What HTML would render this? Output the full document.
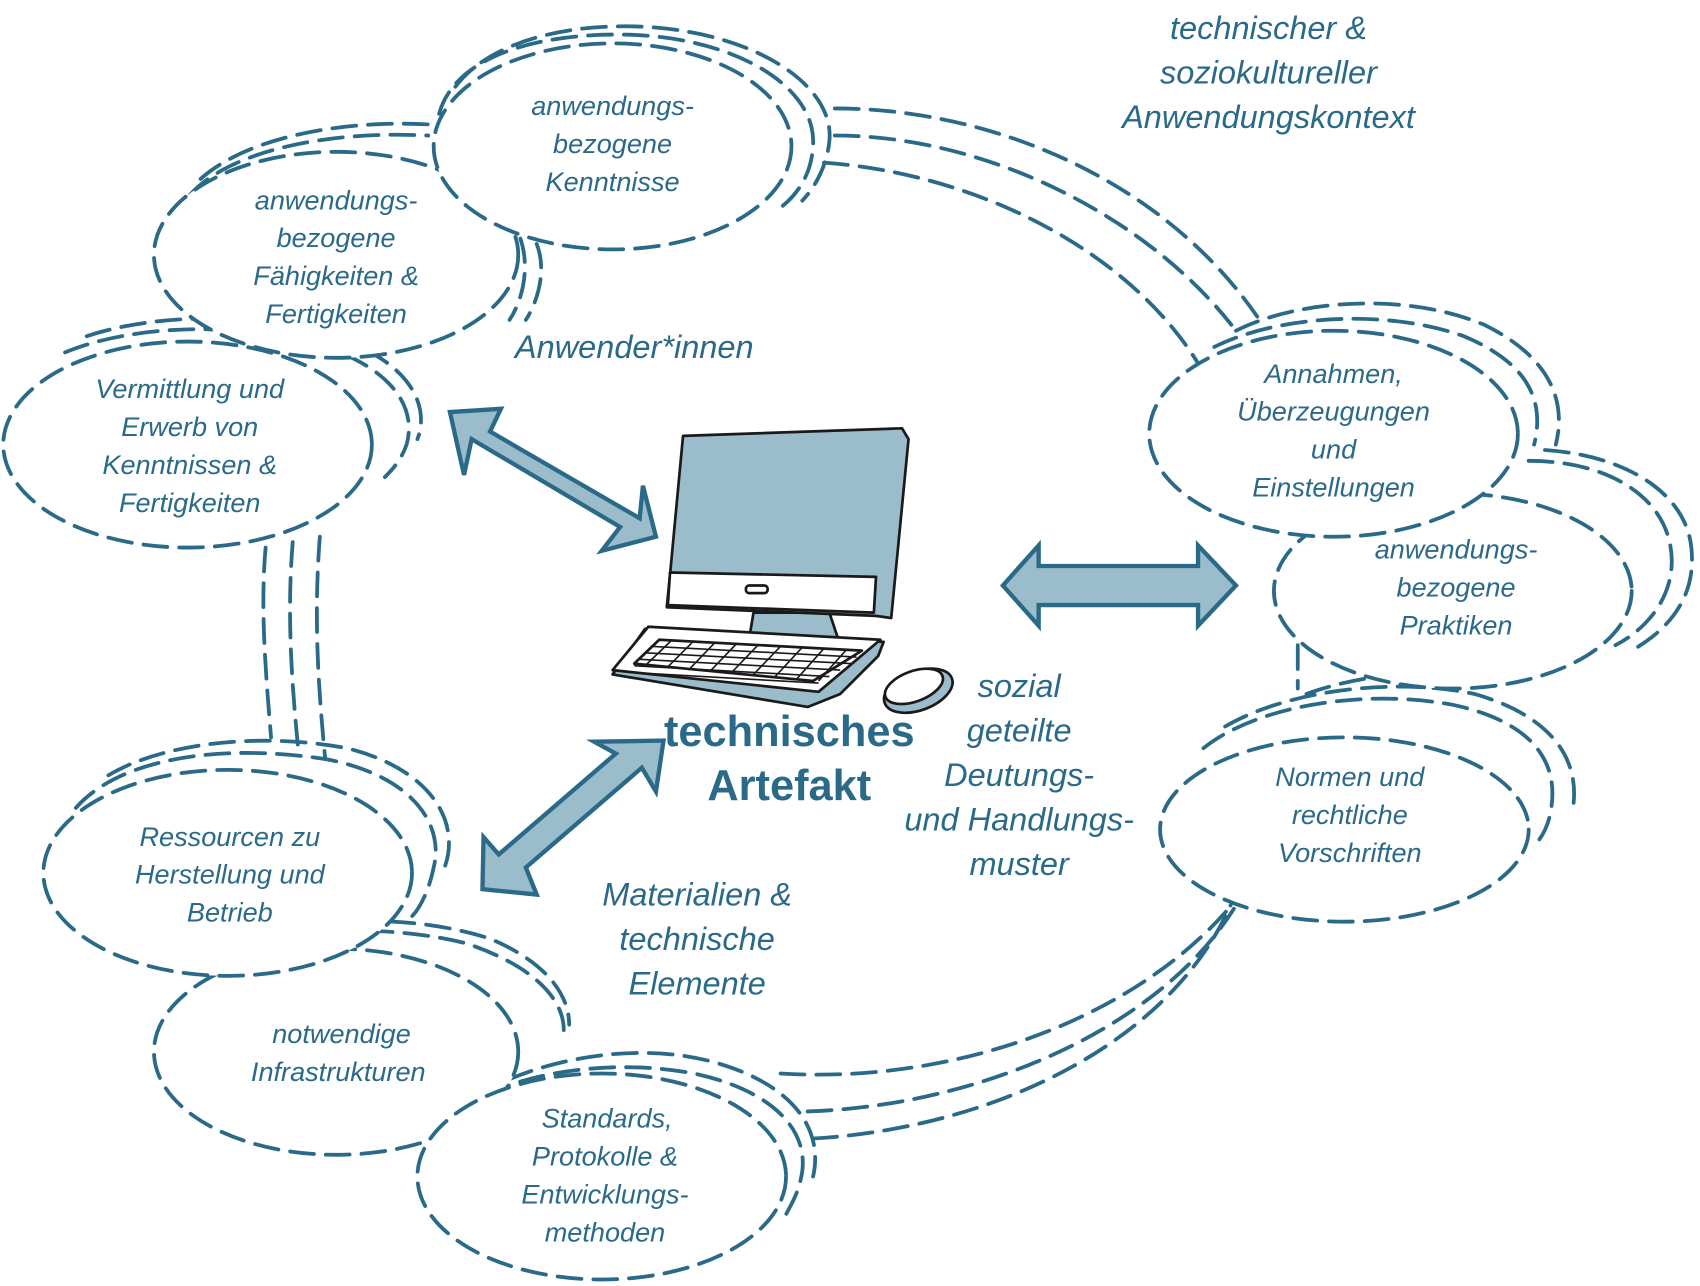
<!DOCTYPE html>
<html><head><meta charset="utf-8"><style>
html,body{margin:0;padding:0;background:#fff;}
svg{display:block}
text{font-family:"Liberation Sans",sans-serif;font-style:italic;fill:#2a6a88;text-anchor:middle;}
</style></head><body>
<svg width="1700" height="1286" viewBox="0 0 1568 1186" preserveAspectRatio="none" xmlns="http://www.w3.org/2000/svg">
<g fill="none" stroke="#2a6a88" stroke-width="3.5" stroke-dasharray="22 11" stroke-linecap="round">
<!-- big loops -->
<path d="M770 100 C920 100 1080 170 1165 300"/>
<path d="M770 125 C910 125 1060 200 1140 305"/>
<path d="M760 150 C900 160 1040 230 1105 335"/>
<path d="M245 505 C240 560 245 620 250 680"/>
<path d="M270 500 C265 560 268 620 275 690"/>
<path d="M295 495 C290 560 292 620 300 700"/>
<path d="M720 990 C880 1000 1050 940 1140 830"/>
<path d="M745 1025 C900 1020 1070 950 1140 835"/>
<path d="M750 1050 C920 1040 1080 960 1135 835"/>
<path d="M1197 595 L1197 635"/>
<path d="M1205 640 C1260 620 1330 615 1380 630"/>
<!-- extra arcs -->
<path d="M175 180 C210 140 300 120 395 125"/>
<path d="M185 165 C230 125 320 110 400 115"/>
<path d="M480 220 C490 250 480 280 470 295"/>
<path d="M495 225 C505 250 495 280 485 295"/>
<path d="M405 105 C420 50 500 30 580 32 C680 35 750 80 750 130 C750 165 730 185 715 195"/>
<path d="M420 80 C450 40 520 20 600 25 C700 32 770 80 765 130 C762 160 745 180 740 185"/>
<path d="M60 325 C120 300 220 295 300 320 C360 340 385 375 375 410 C370 425 360 435 355 440"/>
<path d="M80 310 C140 290 240 285 320 315 C385 340 395 380 385 405"/>
<path d="M70 745 C110 700 200 685 300 700 C380 715 410 760 400 800 C395 825 385 840 380 845"/>
<path d="M100 715 C150 685 240 675 320 690 C400 710 425 760 410 800"/>
<path d="M180 890 C240 855 350 850 430 870 C490 890 520 920 520 950"/>
<path d="M200 880 C260 845 370 840 450 865 C500 885 525 915 525 945"/>
<path d="M420 1025 C470 990 560 975 640 990 C710 1005 745 1040 740 1080 C737 1100 730 1110 725 1120"/>
<path d="M440 1010 C500 975 590 960 660 980 C730 1000 760 1040 750 1085"/>
<path d="M1120 320 C1180 290 1280 285 1350 310 C1410 335 1425 370 1415 410"/>
<path d="M1140 305 C1200 275 1300 270 1370 300 C1430 330 1445 370 1435 410"/>
<path d="M1410 425 C1480 425 1530 455 1540 500 C1550 545 1520 580 1490 595"/>
<path d="M1425 415 C1500 420 1555 455 1560 505 C1565 550 1540 580 1505 600"/>
<path d="M1110 690 C1160 650 1260 635 1340 650 C1410 665 1440 700 1430 750 C1427 765 1420 775 1415 780"/>
<path d="M1130 670 C1190 635 1290 625 1360 640 C1430 660 1460 700 1450 750"/>
</g>
<g fill="#fff" stroke="#2a6a88" stroke-width="3.5" stroke-dasharray="22 11" stroke-linecap="round">
<ellipse cx="310" cy="235" rx="168" ry="95"/>
<ellipse cx="565" cy="135" rx="165" ry="95"/>
<ellipse cx="173" cy="410" rx="170" ry="95"/>
<ellipse cx="310" cy="970" rx="168" ry="95"/>
<ellipse cx="210" cy="805" rx="170" ry="95"/>
<ellipse cx="555" cy="1085" rx="170" ry="95"/>
<ellipse cx="1340" cy="545" rx="165" ry="90"/>
<ellipse cx="1230" cy="400" rx="170" ry="95"/>
<ellipse cx="1240" cy="765" rx="170" ry="85"/>
</g>
<!-- arrows -->
<g fill="#9bbdcb" stroke="#2a6a88" stroke-width="4" stroke-linejoin="miter">
<polygon points="415,380 462,377 452,398 590,478 593,448 605,495 555,508 572,486 435,405 428,438"/>
<polygon points="925,540 958,503 958,522 1105,522 1105,503 1140,540 1105,577 1105,558 958,558 958,577"/>
<polygon points="612,683 605,730 592,708 485,800 495,825 445,820 446,772 460,788 568,695 548,684"/>
</g>
<!-- computer -->
<g stroke="#1a1a1a" stroke-width="2.5" stroke-linejoin="round">
<polygon points="695,565 765,565 775,595 690,595" fill="#9bbdcb"/>
<polygon points="630,402 832,395 838,405 822,570 808,568 615,560 618,530" fill="#9bbdcb"/>
<polygon points="618,528 808,532 806,565 616,558" fill="#fff"/>
<rect x="688" y="540" width="20" height="7" rx="3" fill="#fff"/>
<polygon points="595,580 815,592 810,605 775,640 745,652 565,622" fill="#9bbdcb"/>
<polygon points="598,578 812,590 755,638 565,618" fill="#fff"/>
<polygon points="608,590 795,600 750,628 585,612" fill="#fff"/>
<g stroke-width="1.5">
<path d="M600 596 L790 606 M595 602 L785 612 M590 608 L775 618 M585 614 L765 624 M580 620 L755 630"/>
<path d="M620 590 L595 614 M640 591 L615 616 M660 592 L635 618 M680 593 L655 619 M700 594 L675 620 M720 596 L695 622 M740 597 L715 624 M760 598 L735 626 M780 600 L755 628"/>
</g>
<ellipse cx="847" cy="637" rx="33" ry="18" transform="rotate(-20 847 637)" fill="#9bbdcb"/>
<ellipse cx="843" cy="633" rx="28" ry="14" transform="rotate(-20 843 633)" fill="#fff"/>
</g>
<!-- text -->
<g font-size="25">
<text x="565" y="106">anwendungs-</text><text x="565" y="141">bezogene</text><text x="565" y="176">Kenntnisse</text>
<text x="310" y="193">anwendungs-</text><text x="310" y="228">bezogene</text><text x="310" y="263">Fähigkeiten &amp;</text><text x="310" y="298">Fertigkeiten</text>
<text x="175" y="367">Vermittlung und</text><text x="175" y="402">Erwerb von</text><text x="175" y="437">Kenntnissen &amp;</text><text x="175" y="472">Fertigkeiten</text>
<text x="212" y="780">Ressourcen zu</text><text x="212" y="815">Herstellung und</text><text x="212" y="850">Betrieb</text>
<text x="315" y="962">notwendige</text><text x="312" y="997">Infrastrukturen</text>
<text x="560" y="1040">Standards,</text><text x="558" y="1075">Protokolle &amp;</text><text x="558" y="1110">Entwicklungs-</text><text x="558" y="1145">methoden</text>
<text x="1230" y="353">Annahmen,</text><text x="1230" y="388">Überzeugungen</text><text x="1230" y="423">und</text><text x="1230" y="458">Einstellungen</text>
<text x="1343" y="515">anwendungs-</text><text x="1343" y="550">bezogene</text><text x="1343" y="585">Praktiken</text>
<text x="1245" y="725">Normen und</text><text x="1245" y="760">rechtliche</text><text x="1245" y="795">Vorschriften</text>
</g>
<g font-size="30">
<text x="1170" y="36">technischer &amp;</text><text x="1170" y="77">soziokultureller</text><text x="1170" y="118">Anwendungskontext</text>
<text x="585" y="330">Anwender*innen</text>
<text x="940" y="643">sozial</text><text x="940" y="684">geteilte</text><text x="940" y="725">Deutungs-</text><text x="940" y="766">und Handlungs-</text><text x="940" y="807">muster</text>
<text x="643" y="835">Materialien &amp;</text><text x="643" y="876">technische</text><text x="643" y="917">Elemente</text>
</g>
<g font-size="40">
<text x="728" y="688" style="font-style:normal;font-weight:bold">technisches</text><text x="728" y="738" style="font-style:normal;font-weight:bold">Artefakt</text>
</g>
</svg>
</body></html>
